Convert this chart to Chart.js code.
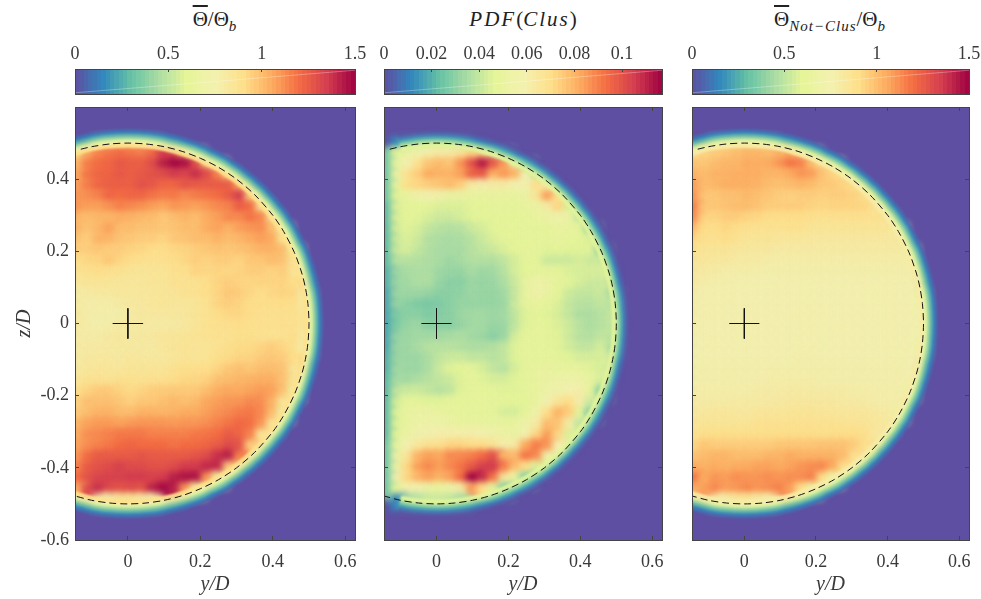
<!DOCTYPE html>
<html>
<head>
<meta charset="utf-8">
<title>Temperature maps</title>
<script src="https://cdn.jsdelivr.net/npm/chart.js@4/dist/chart.umd.js"></script>
<style>
  html, body { margin: 0; background: #fff; }
  body { position: relative; width: 981px; height: 599px; overflow: hidden; }
  canvas { position: absolute; }
  .title { position: absolute; top: 5px; transform: translateX(-50%); white-space: nowrap;
    font: 21px "Liberation Serif", serif; color: #222; line-height: 28px; }
  .title i { letter-spacing: 2px; }
  .title sub { font-size: 15px; font-style: italic; line-height: 0; letter-spacing: 1px; }
  .bar { text-decoration: overline; }
</style>
</head>
<body>
<div class="title" style="left:215px"><span class="bar">Θ</span>/Θ<sub>b</sub></div>
<div class="title" style="left:523px"><i>PDF</i>(<i>Clus</i>)</div>
<div class="title" style="left:830px"><span class="bar">Θ</span><sub>Not−Clus</sub>/Θ<sub>b</sub></div>
<canvas id="bar1" width="370" height="60" style="left:0;top:40px"></canvas>
<canvas id="bar2" width="300" height="60" style="left:375px;top:40px"></canvas>
<canvas id="bar3" width="301" height="60" style="left:680px;top:40px"></canvas>
<canvas id="map1" width="370" height="499" style="left:0;top:100px"></canvas>
<canvas id="map2" width="300" height="499" style="left:375px;top:100px"></canvas>
<canvas id="map3" width="301" height="499" style="left:680px;top:100px"></canvas>
<script>
// grid centres of the maps, rows run top to bottom, cells past the end of a row are background
const colY = [-0.135, -0.105, -0.075, -0.045, -0.015, 0.015, 0.045, 0.075, 0.105, 0.135, 0.165, 0.195,
  0.225, 0.255, 0.285, 0.315, 0.345, 0.375, 0.405, 0.435, 0.465, 0.495];
const rowZ = [0.495, 0.465, 0.435, 0.405, 0.375, 0.345, 0.315, 0.285, 0.255, 0.225, 0.195, 0.165,
  0.135, 0.105, 0.075, 0.045, 0.015, -0.015, -0.045, -0.075, -0.105, -0.135, -0.165, -0.195, -0.225,
  -0.255, -0.285, -0.315, -0.345, -0.375, -0.405, -0.435, -0.465, -0.495];

// mean temperature, in hundredths of theta/theta_b
const thetaRows = [
  [0,0,78,75,80,80,75,78],
  [92,106,114,118,120,118,116,122,135,130,100,68],
  [102,116,120,122,126,124,124,130,142,148,146,130,95,68],
  [106,118,122,123,126,124,126,128,130,135,132,138,130,115,90],
  [108,116,122,124,124,124,128,126,122,122,127,125,125,125,125,105],
  [110,112,115,122,120,122,122,118,116,117,113,116,118,120,125,135,95],
  [110,108,108,111,115,113,111,108,106,110,109,107,110,113,115,124,120,85],
  [102,100,102,102,104,103,101,100,97,100,102,100,105,108,113,113,118,114,85],
  [103,98,102,107,100,100,98,98,97,98,100,100,105,107,103,108,110,112,100,68],
  [98,95,103,102,98,97,95,95,93,97,98,100,100,103,100,102,105,108,105,85],
  [95,95,97,95,95,93,92,90,90,92,93,95,97,98,97,98,100,103,103,100,68],
  [90,92,93,97,92,90,88,87,88,90,92,95,93,95,95,93,97,97,100,98,85],
  [87,88,90,88,87,85,85,85,85,88,88,93,92,93,92,93,95,95,93,95,85],
  [83,85,85,85,83,83,83,85,85,87,87,87,90,93,95,93,92,93,93,93,90],
  [80,80,82,82,83,82,83,83,85,85,87,87,90,93,97,95,92,90,92,93,92,78],
  [80,78,78,78,80,82,82,83,85,83,83,85,87,93,95,93,90,90,90,90,90,80],
  [82,78,77,77,77,80,82,82,82,82,83,85,87,90,92,92,90,88,88,88,88,85],
  [82,78,77,78,80,80,80,80,80,80,82,85,87,88,88,90,88,88,88,88,88,85],
  [79,79,79,81,82,81,81,82,84,84,85,86,87,87,87,89,89,87,87,87,89,80],
  [80,80,80,81,81,81,81,81,83,85,86,85,85,87,89,91,91,93,95,92,88,78],
  [80,82,82,82,81,83,82,82,82,84,86,85,86,89,91,93,93,96,97,95,90],
  [81,83,84,84,83,85,85,85,85,88,89,89,90,93,97,99,97,100,100,98,85],
  [84,87,87,86,88,87,87,88,88,90,92,92,94,99,100,102,103,104,104,98,85],
  [89,93,96,96,93,91,93,95,96,96,96,96,100,104,106,105,107,109,107,98,68],
  [94,99,99,99,97,94,97,97,99,101,99,101,106,108,110,110,113,112,103,85],
  [96,100,103,103,100,100,103,103,102,103,105,105,108,111,113,116,117,113,100,68],
  [102,107,109,109,107,109,110,110,110,109,110,110,112,115,118,121,119,110,85],
  [105,112,113,115,117,117,117,115,115,115,115,117,118,120,125,122,115,85],
  [107,112,115,117,120,122,120,120,120,118,120,120,122,125,130,127,95],
  [110,120,125,125,125,125,127,125,125,125,125,127,130,138,142,115],
  [115,125,128,130,133,130,130,128,128,130,135,135,140,140,95],
  [120,128,132,133,133,135,135,133,135,142,145,145,110,68],
  [105,130,138,130,128,130,128,142,148,142,110,68],
  [0,0,78,78,85,85,80,78]
];

// probability of a cluster, in thousandths
const clusRows = [
  [0,12,35,40,42,42,40,35],
  [25,47,52,55,60,62,62,66,72,72,55,28],
  [25,50,58,68,76,78,76,86,100,112,98,85,55,28],
  [25,52,68,74,82,80,80,84,96,98,80,85,80,58,40],
  [25,50,70,72,74,76,78,74,62,60,62,62,58,58,70,62],
  [25,47,50,55,58,55,52,52,50,50,50,50,50,52,66,84,70],
  [22,45,47,47,47,45,45,45,47,47,48,48,48,50,52,62,72,45],
  [22,45,47,46,44,42,42,44,46,47,47,47,47,48,50,52,56,52,40],
  [22,44,46,44,40,38,37,38,42,44,47,47,48,48,48,48,50,50,48,28],
  [22,42,45,42,37,36,35,36,38,42,45,47,47,48,48,48,50,48,47,45],
  [22,42,44,40,37,35,35,35,38,40,42,45,47,48,48,46,47,46,46,46,28],
  [22,38,38,37,36,35,33,35,37,37,37,40,44,48,47,42,42,42,44,42,42],
  [20,33,35,36,36,33,32,32,35,33,34,38,44,47,48,48,47,45,44,44,44],
  [20,33,34,36,36,32,30,30,33,32,33,36,42,50,54,52,48,46,44,42,42],
  [18,33,33,33,32,30,30,31,33,32,32,34,41,50,55,52,47,42,40,40,42,35],
  [18,32,30,28,27,28,30,32,32,32,32,33,42,49,49,48,45,40,38,38,40,38],
  [18,28,30,30,28,29,30,33,34,34,33,34,40,46,47,46,44,40,36,36,38,40],
  [18,28,32,33,30,30,30,32,34,34,32,33,40,46,48,47,45,42,38,36,38,40],
  [18,32,33,34,34,34,35,36,34,33,30,33,44,48,48,47,46,42,38,37,40,38],
  [18,33,33,35,38,38,38,37,36,36,37,40,46,48,48,48,46,43,40,40,44,35],
  [20,33,33,33,36,40,42,42,40,40,38,40,46,48,48,48,47,46,44,44,44],
  [20,34,33,33,36,42,46,47,48,44,40,38,44,48,50,50,50,50,50,46,44],
  [22,35,34,36,38,40,42,46,48,46,44,44,46,48,50,52,54,54,54,50,44],
  [22,40,42,42,40,38,40,46,48,48,48,46,46,48,50,54,55,58,60,48,28],
  [22,44,48,47,46,46,48,48,48,48,48,47,47,47,50,58,66,70,60,42],
  [22,46,50,52,52,50,49,48,48,48,48,44,44,47,56,70,80,74,48,28],
  [22,46,50,54,54,54,52,50,50,50,50,49,50,54,62,78,76,62,40],
  [22,47,52,56,58,60,60,60,60,58,55,52,52,58,72,84,72,45],
  [25,50,58,64,68,68,72,72,70,70,66,60,62,82,90,86,60],
  [25,54,66,80,84,82,88,88,90,94,100,80,78,92,88,55],
  [25,54,72,84,88,84,88,92,98,104,105,90,78,70,45],
  [25,58,72,80,84,80,84,94,116,108,92,65,50,28],
  [25,47,60,58,52,50,54,62,85,70,48,28],
  [0,12,35,38,42,42,40,35]
];

// temperature outside clusters, in hundredths of theta/theta_b
const notClusRows = [
  [0,0,78,75,80,80,75,78],
  [88,92,95,97,100,102,102,100,103,105,92,68],
  [98,97,100,102,102,105,104,105,110,118,115,100,88,68],
  [103,100,103,103,104,104,104,102,102,105,110,108,98,93,88],
  [108,100,102,104,104,104,103,100,99,100,102,100,97,96,93,88],
  [110,97,97,99,99,101,99,97,95,94,95,95,94,95,95,93,88],
  [115,97,97,98,100,100,98,95,95,95,95,93,92,93,93,93,92,85],
  [112,93,93,95,95,93,92,90,90,90,90,88,88,88,88,88,88,88,85],
  [100,90,90,92,90,88,87,87,87,88,87,85,85,85,85,85,85,85,85,68],
  [92,88,87,90,87,85,85,85,83,83,83,82,82,82,82,82,82,82,82,82],
  [87,85,85,85,83,82,82,82,80,80,80,80,80,80,80,80,80,80,80,80,68],
  [85,83,82,82,80,80,80,78,78,78,78,78,78,78,78,78,78,78,78,78,78],
  [82,80,80,78,78,78,77,77,77,77,77,77,77,77,77,77,77,77,77,77,77],
  [80,78,77,77,76,76,76,76,76,76,76,76,76,76,76,76,76,76,76,76,76],
  [78,76,76,76,76,76,76,76,76,76,76,76,76,76,76,76,76,76,76,76,76,72],
  [78,76,76,76,76,76,76,76,76,76,76,76,76,76,76,76,76,76,76,76,76,72],
  [78,76,76,76,76,76,76,76,76,76,76,76,76,76,76,76,76,76,76,76,76,74],
  [77,76,76,76,76,76,76,76,76,76,76,76,76,76,76,76,76,76,76,76,76,74],
  [76,76,76,76,76,76,76,76,76,76,76,76,76,76,76,76,76,76,76,76,76,72],
  [76,76,76,76,76,76,76,76,76,76,76,76,76,76,76,76,76,76,76,76,76,72],
  [76,76,76,76,76,76,76,76,76,76,77,77,76,76,76,76,76,76,76,76,76],
  [77,77,77,77,77,77,77,77,77,77,77,77,77,77,77,77,77,77,77,77,76],
  [77,77,77,77,77,77,77,78,78,78,78,78,77,77,77,77,77,77,77,77,76],
  [78,78,78,78,78,78,79,79,79,80,80,79,79,79,79,78,78,78,77,77,68],
  [79,79,79,79,80,80,80,80,81,82,82,82,82,82,80,80,79,78,78,78],
  [82,82,83,83,82,82,84,84,84,85,85,85,84,84,83,83,83,81,80,68],
  [85,85,85,85,85,85,87,87,87,87,87,87,87,87,86,86,85,83,82],
  [87,89,89,89,89,89,89,89,90,90,90,90,89,90,90,90,88,82],
  [92,97,95,95,95,95,95,95,97,97,97,97,98,98,98,95,88],
  [98,100,102,102,100,100,100,102,102,105,103,103,103,103,100,88],
  [105,103,105,103,105,105,107,107,105,107,110,112,113,105,88],
  [118,105,110,108,112,110,110,112,110,112,112,115,90,68],
  [105,108,113,108,110,113,110,112,115,108,90,68],
  [0,0,78,78,85,85,80,78]
];

// dashed nozzle outline and the centre cross
const arcY = [-0.13, -0.1, -0.05, 0, 0.05, 0.1, 0.15, 0.2, 0.25, 0.3, 0.35, 0.4, 0.43, 0.46, 0.48, 0.49, 0.497, 0.5,
  0.497, 0.49, 0.48, 0.46, 0.43, 0.4, 0.35, 0.3, 0.25, 0.2, 0.15, 0.1, 0.05, 0, -0.05, -0.1, -0.146];
const arcZ = [0.483, 0.49, 0.4975, 0.5, 0.4975, 0.49, 0.477, 0.458, 0.433, 0.4, 0.357, 0.3, 0.255, 0.196, 0.14, 0.0995, 0.055, 0,
  -0.055, -0.0995, -0.14, -0.196, -0.255, -0.3, -0.357, -0.4, -0.433, -0.458, -0.477, -0.49, -0.4975, -0.5, -0.4975, -0.49, -0.478];
const crossH = [[-0.042, 0], [0.042, 0]];
const crossV = [[0, 0.042], [0, -0.042]];

// the fall-off at the jet edge: radius of each ring and the level read there
const rimRadius = [0.535, 0.528, 0.521, 0.514, 0.507, 0.5, 0.493];
const thetaRim = [6, 14, 25, 38, 55, 72, 90];
const clusRim = [0, 3, 8, 16, 26, 38, 46];
const notClusRim = [6, 14, 25, 38, 55, 72, 80];

const yTicks = [0, 0.2, 0.4, 0.6];
const zTicks = [0.6, 0.4, 0.2, 0, -0.2, -0.4, -0.6];
const thetaBarTicks = [0, 0.5, 1, 1.5];
const clusBarTicks = [0, 0.02, 0.04, 0.06, 0.08, 0.1];
const thetaMax = 1.5;
const clusMax = 0.1168;

const spectral = ["#5e4fa2", "#3288bd", "#66c2a5", "#abdda4", "#e6f598", "#f3f1b0", "#fee08b", "#fdae61", "#f46d43", "#d53e4f", "#9e0142"];
const rgbStops = spectral.map((h) => [1, 3, 5].map((i) => parseInt(h.slice(i, i + 2), 16)));

function colorAt(t) {
  const p = Math.min(Math.max(t, 0), 1) * (rgbStops.length - 1);
  const i = Math.min(Math.floor(p), rgbStops.length - 2);
  const c = rgbStops[i].map((a, k) => Math.round(a + (rgbStops[i + 1][k] - a) * (p - i)));
  return `rgb(${c[0]},${c[1]},${c[2]})`;
}

const lineColor = "#444";
const textColor = "#3a3a3a";
const serif = "'Liberation Serif', serif";

// maps get a purple plot area, and cells and rings are softened while the library draws them
const mapPlugin = {
  id: "mapPlugin",
  beforeDraw(chart) {
    const a = chart.chartArea;
    chart.ctx.fillStyle = spectral[0];
    chart.ctx.fillRect(a.left, a.top, a.width, a.height);
  },
  beforeDatasetDraw(chart, args) {
    const soft = chart.data.datasets[args.index].soft;
    if (soft) chart.ctx.filter = `blur(${soft}px)`;
  },
  afterDatasetDraw(chart) {
    chart.ctx.filter = "none";
  },
};

function axis(position, ticksList, min, max, size, extra) {
  const o = {
    type: "linear",
    position,
    min,
    max,
    grid: { drawOnChartArea: false, tickLength: -4, color: lineColor, z: 1 },
    border: { color: lineColor, width: 1, z: 2 },
    ticks: { display: false },
    afterBuildTicks: (scale) => {
      scale.ticks = ticksList.map((v) => ({ value: v }));
    },
    afterFit: (scale) => {
      if (position === "left" || position === "right") scale.width = size;
      else scale.height = size;
      // labels may hang over the plot edge, the frame stays where it is
      scale.paddingLeft = scale.paddingRight = scale.paddingTop = scale.paddingBottom = 0;
    },
  };
  return Object.assign(o, extra);
}

function tickLabels(padding, hide) {
  return {
    display: true,
    color: textColor,
    font: { family: serif, size: 18 },
    padding,
    maxRotation: 0,
    autoSkip: false,
    callback: (v) => (hide && hide.includes(v) ? "" : String(v)),
  };
}

function cellsFrom(rows, unit) {
  const cells = [];
  rows.forEach((row, i) => {
    row.forEach((v, j) => {
      if (v > 0) cells.push({ x: colY[j], y: rowZ[i], v: v / unit });
    });
  });
  return cells;
}

function rimData(rimValues, unit, top, wholeArc) {
  // arcs that reach past the left frame on the two full maps
  const ys = wholeArc ? [-0.17, ...arcY.slice(1, -1), -0.17] : arcY.slice(1, -1);
  const zs = wholeArc ? [0.47, ...arcZ.slice(1, -1), -0.47] : arcZ.slice(1, -1);
  return rimRadius.map((r, k) => ({
    type: "line",
    label: "rim " + r,
    data: ys.map((y, i) => ({ x: (y * r) / 0.5, y: (zs[i] * r) / 0.5 })),
    borderColor: colorAt(rimValues[k] / unit / top),
    borderWidth: 3.6,
    pointRadius: 0,
    tension: 0.3,
    soft: 1,
    order: 15 - k,
  }));
}

function drawMap(id, rows, rimValues, unit, top, leftSpace, rightSpace, showZ) {
  const xMin = -0.146;
  const xMax = 0.627;
  const cells = cellsFrom(rows, unit);
  const arc = arcY.map((y, i) => ({ x: y, y: arcZ[i] }));
  const toPts = (pair) => pair.map((p) => ({ x: p[0], y: p[1] }));
  const thin = { type: "line", borderColor: "#111", borderWidth: 1, pointRadius: 0, order: 1 };

  return new Chart(document.getElementById(id), {
    type: "scatter",
    plugins: [mapPlugin],
    data: {
      datasets: [
        {
          label: "map",
          data: cells,
          order: 30,
          soft: 3,
          pointStyle: "rect",
          pointRadius: 12,
          pointBorderWidth: 0,
          pointBackgroundColor: (ctx) => colorAt(ctx.raw.v / top),
        },
        ...rimData(rimValues, unit, top, showZ || id === "map3"),
        Object.assign({}, thin, { label: "outline", data: arc, borderDash: [7, 4], tension: 0.3 }),
        Object.assign({}, thin, { label: "cross h", data: toPts(crossH) }),
        Object.assign({}, thin, { label: "cross v", data: toPts(crossV) }),
      ],
    },
    options: {
      responsive: false,
      animation: false,
      devicePixelRatio: 1,
      layout: { autoPadding: false, padding: { top: 7, right: rightSpace, bottom: 0, left: 0 } },
      plugins: { legend: { display: false }, tooltip: { enabled: false } },
      scales: {
        x: axis("bottom", yTicks, xMin, xMax, 59, {
          ticks: tickLabels(15),
          title: { display: true, text: "y/D", color: textColor, font: { family: serif, size: 20, style: "italic" }, padding: { top: 0, bottom: 2 } },
        }),
        xTop: axis("top", yTicks, xMin, xMax, 0),
        y: axis("left", zTicks, -0.6, 0.6, leftSpace, showZ
          ? {
              ticks: tickLabels(10, [0.6]),
              title: { display: true, text: "z/D", color: textColor, font: { family: serif, size: 20, style: "italic" }, padding: { top: 13, bottom: 0 } },
            }
          : {}),
        yRight: axis("right", zTicks, -0.6, 0.6, 0),
      },
    },
  });
}

function drawBar(id, barTicks, top, left, right) {
  const canvas = document.getElementById(id);
  const grad = canvas.getContext("2d").createLinearGradient(left, 0, right, 0);
  const bands = 64;
  for (let i = 0; i < bands; i++) {
    const c = colorAt((i + 0.5) / bands);
    grad.addColorStop(i / bands, c);
    grad.addColorStop((i + 1) / bands, c);
  }
  const w = canvas.width;
  return new Chart(canvas, {
    type: "scatter",
    data: {
      datasets: [
        {
          type: "line",
          label: "colour bar",
          data: [{ x: 0, y: 1 }, { x: top, y: 1 }],
          fill: "origin",
          backgroundColor: grad,
          borderWidth: 0,
          pointRadius: 0,
          order: 2,
        },
        {
          type: "line",
          label: "seam",
          data: [{ x: 0, y: 0.05 }, { x: top, y: 0.95 }],
          borderColor: "rgba(255,255,255,0.3)",
          borderWidth: 1,
          pointRadius: 0,
          order: 1,
        },
      ],
    },
    options: {
      responsive: false,
      animation: false,
      devicePixelRatio: 1,
      layout: { autoPadding: false, padding: { top: 0, right: w - right, bottom: 6, left } },
      plugins: { legend: { display: false }, tooltip: { enabled: false } },
      scales: {
        x: axis("top", barTicks, 0, top, 29, { ticks: tickLabels(7), grid: { drawOnChartArea: false, tickLength: -3, color: lineColor, z: 1 } }),
        xBottom: axis("bottom", [], 0, top, 0),
        y: axis("left", [], 0, 1, 0),
        yRight: axis("right", [], 0, 1, 0),
      },
    },
  });
}

drawBar("bar1", thetaBarTicks, thetaMax, 75, 355);
drawBar("bar2", clusBarTicks, clusMax, 9, 287);
drawBar("bar3", thetaBarTicks, thetaMax, 12, 289);
drawMap("map1", thetaRows, thetaRim, 100, thetaMax, 75, 15, true);
drawMap("map2", clusRows, clusRim, 1000, clusMax, 9, 13, false);
drawMap("map3", notClusRows, notClusRim, 100, thetaMax, 12, 12, false);
</script>
</body>
</html>
